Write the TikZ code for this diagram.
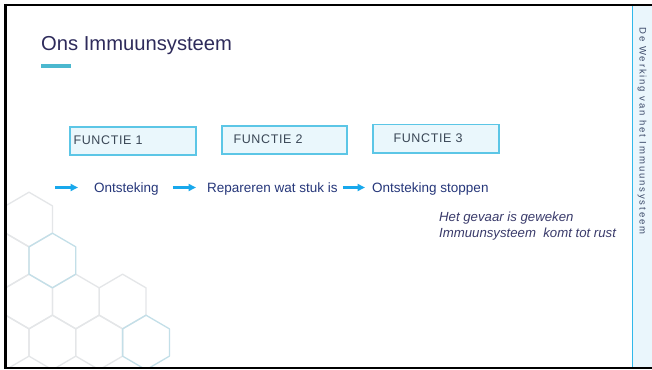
\documentclass[tikz,border=0pt]{standalone}
\usepackage{fontspec}
\setmainfont{Liberation Sans}
\usetikzlibrary{arrows.meta}
\definecolor{titlecol}{HTML}{2E2B5B}
\definecolor{accentcol}{HTML}{4BB8CF}
\definecolor{boxfill}{HTML}{EAF7FC}
\definecolor{boxline}{HTML}{5CC6E6}
\definecolor{flabelcol}{HTML}{3A4756}
\definecolor{arrowcol}{HTML}{18A8EC}
\definecolor{stepcol}{HTML}{26377A}
\definecolor{notecol}{HTML}{3A3B6B}
\definecolor{sidecol}{HTML}{3A4868}
\definecolor{panelfill}{HTML}{EAF6FC}
\definecolor{panelline}{HTML}{30B8EA}
\definecolor{hexgrey}{HTML}{E4E6E8}
\definecolor{hexteal}{HTML}{C3DFE8}
\newcommand{\hexat}[3]{\draw[#3] (#1,#2) ++(0,-27.3) -- ++(23.4,13.65) -- ++(0,27.3) -- ++(-23.4,13.65) -- ++(-23.4,-13.65) -- ++(0,-27.3) -- cycle;}
\begin{document}
\begin{tikzpicture}[x=1pt,y=-1pt,
  fbox/.style={draw=boxline, fill=boxfill, line width=1.3pt, inner sep=0pt},
  flabel/.style={inner sep=0pt, text=flabelcol, font=\fontsize{12.5}{14}\selectfont\addfontfeatures{LetterSpace=5}},
  steptext/.style={inner sep=0pt, anchor=base west, text=stepcol, font=\fontsize{13.5}{16}\selectfont},
  arr/.style={draw=arrowcol, line width=2.2pt, -{Triangle[length=7.5pt,width=7pt]}},
  hexg/.style={draw=hexgrey, line width=1.3pt, line join=round},
  hext/.style={draw=hexteal, line width=1.3pt, line join=round}]
\useasboundingbox (0,0) rectangle (652,369);
\fill[white] (0,0) rectangle (652,369);
% hexagon background
\begin{scope}
\clip (6,6) rectangle (632,366.5);
\hexat{5.6}{260.5}{hexg}
\hexat{29}{219.5}{hexg}
\hexat{29}{301.5}{hexg}
\hexat{75.8}{301.5}{hexg}
\hexat{122.6}{301.5}{hexg}
\hexat{5.6}{342.5}{hexg}
\hexat{52.4}{342.5}{hexg}
\hexat{99.2}{342.5}{hexg}
\hexat{52.4}{260.5}{hext}
\hexat{146}{342.5}{hext}
\end{scope}
% right panel
\fill[panelfill] (633,6) rectangle (652,366.5);
\draw[panelline, line width=1.3pt] (632.5,6) -- (632.5,367);
% frame
\draw[black, line width=2pt] (4,5) -- (652,5);
\draw[black, line width=2pt] (4,367.5) -- (652,367.5);
\draw[black, line width=2.6pt] (5.2,4) -- (5.2,368.5);
% title
\node[anchor=base west, inner sep=0pt, text=titlecol, font=\fontsize{20.2}{24}\selectfont] (title) at (41,50) {Ons Immuunsysteem};
\draw[accentcol, line width=3.2pt] (41,66) -- (71,66);
% function boxes
\node[fbox, minimum width=126pt, minimum height=28pt] (b1) at (133,141) {};
\node[fbox, minimum width=125pt, minimum height=28pt] (b2) at (284.5,140) {};
\node[fbox, minimum width=126pt, minimum height=28.5pt] (b3) at (436,138.7) {};
\node[flabel, anchor=west] (l1) at ([xshift=4pt,yshift=0.5pt]b1.west) {FUNCTIE 1};
\node[flabel, anchor=west] (l2) at ([xshift=12pt,yshift=0.5pt]b2.west) {FUNCTIE 2};
\node[flabel, anchor=west] (l3) at ([xshift=21pt,yshift=0.5pt]b3.west) {FUNCTIE 3};
% steps
\coordinate (a0) at (55,187.5);
\node[steptext] (t1) at (94,192) {Ontsteking};
\node[steptext] (t2) at (207,192) {Repareren wat stuk is};
\node[steptext] (t3) at (372,192) {Ontsteking stoppen};
\draw[arr, shorten >=16pt] (a0) -- (t1.west |- a0);
\draw[arr, shorten <=14pt, shorten >=11pt] (t1.east |- a0) -- (t2.west |- a0);
\draw[arr, shorten <=5pt, shorten >=7pt] (t2.east |- a0) -- (t3.west |- a0);
% note
\node[anchor=base west, inner sep=0pt, align=left, text=notecol, font=\fontsize{13.2}{15.7}\selectfont\itshape] (note) at (439,237) {Het gevaar is geweken\\Immuunsysteem\ \ komt tot rust};
% side text
\node[rotate=-90, inner sep=0pt, text=sidecol, font=\fontsize{9.5}{11}\selectfont\addfontfeatures{LetterSpace=20}] (side) at (642,131) {De Werking van het Immuunsysteem};
\end{tikzpicture}
\end{document}
